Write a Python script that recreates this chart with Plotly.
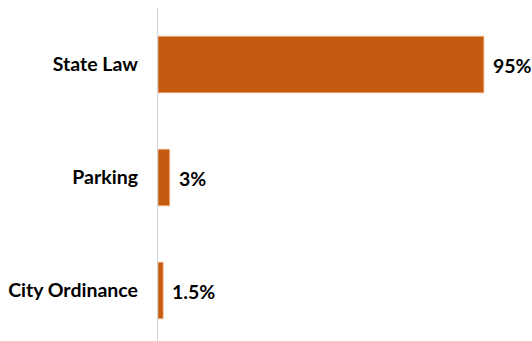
import plotly.graph_objects as go

categories = ["City Ordinance", "Parking", "State Law"]
values = [1.5, 3.4, 95]
value_labels = ["1.5%", "3%", "95%"]

BAR_COLOR = "#C55A11"
FONT = "Lato"

fig = go.Figure()
fig.add_trace(go.Bar(
    x=values,
    y=categories,
    orientation="h",
    marker=dict(color=BAR_COLOR, line=dict(color="#F4B183", width=0.8)),
    hoverinfo="skip",
))

for cat, val, lab in zip(categories, values, value_labels):
    fig.add_annotation(
        x=val, y=cat, xref="x", yref="y",
        text=lab, showarrow=False,
        xanchor="left", yanchor="middle",
        xshift=7, yshift=-1,
        font=dict(family=FONT, size=19.5, color="#000000", weight="bold"),
    )

fig.update_layout(
    width=532, height=341,
    margin=dict(l=158, r=31, t=8, b=0),
    paper_bgcolor="white", plot_bgcolor="white",
    bargap=0.5,
    showlegend=False,
    xaxis=dict(range=[0, 100], visible=False, fixedrange=True),
    yaxis=dict(
        type="category",
        categoryorder="array", categoryarray=categories,
        range=[-0.447, 2.5],
        showline=True, linecolor="#D4D4D4", linewidth=1.3,
        showgrid=False, zeroline=False, ticks="",
        ticklabelstandoff=15,
        tickfont=dict(family=FONT, size=19.5, color="#000000", weight="bold"),
        fixedrange=True,
    ),
)

fig.write_html(
    "out.html",
    config={"displayModeBar": False},
    post_script="document.body.style.margin='0';document.body.style.overflow='hidden';",
)
